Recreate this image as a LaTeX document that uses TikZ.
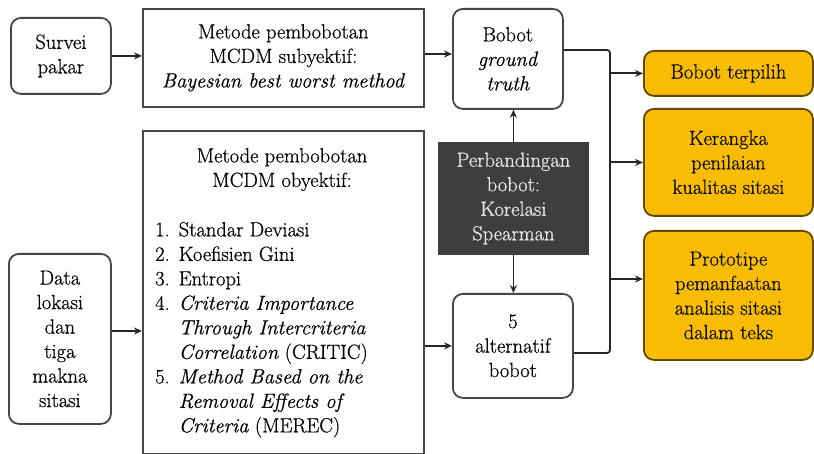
\documentclass[tikz,border=0pt]{standalone}
\usepackage{fontspec}
\setmainfont{Latin Modern Roman}[FakeBold=0.6]
\usetikzlibrary{arrows.meta,calc}
\definecolor{boxline}{RGB}{70,70,70}
\definecolor{orangefill}{RGB}{248,188,0}
\definecolor{orangeline}{RGB}{100,72,0}
\definecolor{darkfill}{RGB}{62,62,62}
\definecolor{lighttext}{RGB}{235,235,235}
\begin{document}
\begin{tikzpicture}[x=1pt,y=1pt,
  font=\fontsize{20.5}{24.5}\selectfont,
  base/.style={draw=boxline,line width=1.8pt,align=center,inner sep=0pt,anchor=north west},
  rbox/.style={base,rounded corners=10pt,fill=white},
  sbox/.style={base,fill=white},
  obox/.style={base,rounded corners=10pt,fill=orangefill,draw=orangeline,text=black!85!orangeline},
  dbox/.style={base,fill=darkfill,draw=darkfill,text=lighttext},
  arr/.style={draw=black!85,line width=1.8pt,-{Stealth[length=8pt,width=7pt]}},
  ln/.style={draw=black!85,line width=1.8pt}
]
\useasboundingbox (0,0) rectangle (814,-454);

\node[rbox,minimum width=100,minimum height=76] (survei) at (10,-17) {Survei\\pakar};
\node[sbox,minimum width=281,minimum height=98] (subj) at (142,-8)
  {Metode pembobotan\\MCDM subyektif:\\\textit{Bayesian best worst method}};
\node[rbox,minimum width=110,minimum height=100] (gt) at (452,-8)
  {Bobot\\\textit{ground}\\\textit{truth}};
\node[obox,minimum width=169,minimum height=45] (terpilih) at (643,-50) {Bobot terpilih};
\node[obox,minimum width=169,minimum height=107] (kerangka) at (643,-108)
  {Kerangka\\penilaian\\kualitas sitasi};
\node[obox,minimum width=169,minimum height=129] (proto) at (643,-230)
  {Prototipe\\pemanfaatan\\analisis sitasi\\dalam teks};
\node[dbox,minimum width=149,minimum height=111] (perb) at (438,-142)
  {Perbandingan\\bobot:\\Korelasi\\Spearman};
\node[rbox,minimum width=120,minimum height=104] (alt) at (452,-293)
  {5\\alternatif\\bobot};
\node[sbox,minimum width=281,minimum height=323] (obj) at (142,-130) {};
\node[rbox,minimum width=102,minimum height=170] (data) at (8,-253)
  {Data\\lokasi\\dan\\tiga\\makna\\sitasi};

\node[align=center,anchor=north,inner sep=0pt] (objtitle) at (282,-148)
  {Metode pembobotan\\MCDM obyektif:};
\node[anchor=north west,inner sep=0pt] (objlist) at (155,-219)
  {\begin{tabular}{@{}l@{\hspace{9pt}}l@{}}
   1. & Standar Deviasi\\
   2. & Koefisien Gini\\
   3. & Entropi\\
   4. & \textit{Criteria Importance}\\
      & \textit{Through Intercriteria}\\
      & \textit{Correlation} (CRITIC)\\
   5. & \textit{Method Based on the}\\
      & \textit{Removal Effects of}\\
      & \textit{Criteria} (MEREC)
   \end{tabular}};

\draw[arr] (survei.east) -- (survei.east -| subj.west);
\draw[arr] (subj.east |- 0,-54) -- (gt.west |- 0,-54);
\draw[arr] (data.east |- 0,-331) -- (obj.west |- 0,-331);
\draw[arr] (obj.east |- alt.west) -- (alt.west);
\draw[arr] (perb.north) -- (perb.north |- gt.south);
\draw[arr] (perb.south) -- (perb.south |- alt.north);

\coordinate (bustop) at (610,-50);
\coordinate (busbot) at (610,-353);
\draw[ln,rounded corners=3pt] (gt.east |- bustop) -- (bustop) -- (busbot) -- (alt.east |- busbot);
\draw[arr] (bustop |- terpilih.west) -- (terpilih.west);
\draw[arr] (bustop |- kerangka.west) -- (kerangka.west);
\coordinate (protoin) at (610,-279);
\draw[arr] (protoin) -- (protoin -| proto.west);
\end{tikzpicture}
\end{document}
